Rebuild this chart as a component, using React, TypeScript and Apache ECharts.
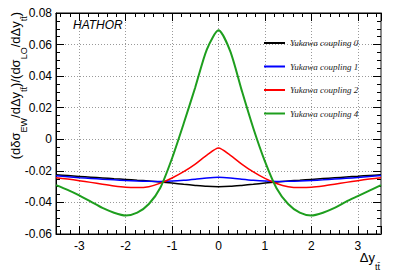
import React, { useEffect, useRef } from "react";
import * as echarts from "echarts";

const xValues = [-3.5, -3.25, -3, -2.75, -2.5, -2.25, -2, -1.75, -1.5, -1.25, -1, -0.75, -0.5, -0.25, 0,
  0.25, 0.5, 0.75, 1, 1.25, 1.5, 1.75, 2, 2.25, 2.5, 2.75, 3, 3.25, 3.5];

const yukawa0 = [-0.0225, -0.0230, -0.0235, -0.0240, -0.0245, -0.0250, -0.0254, -0.0259, -0.0264, -0.0270, -0.0277, -0.0285, -0.0292, -0.0298, -0.0300,
  -0.0298, -0.0292, -0.0285, -0.0277, -0.0270, -0.0264, -0.0259, -0.0254, -0.0249, -0.0244, -0.0239, -0.0234, -0.0229, -0.0225];
const yukawa1 = [-0.0231, -0.0237, -0.0243, -0.0248, -0.0253, -0.0257, -0.0261, -0.0264, -0.0266, -0.0267, -0.0265, -0.0260, -0.0253, -0.0245, -0.0241,
  -0.0245, -0.0253, -0.0260, -0.0265, -0.0267, -0.0266, -0.0264, -0.0261, -0.0257, -0.0252, -0.0247, -0.0242, -0.0236, -0.0230];
const yukawa2 = [-0.0243, -0.0252, -0.0262, -0.0273, -0.0285, -0.0296, -0.0304, -0.0306, -0.0300, -0.0278, -0.0245, -0.0205, -0.0157, -0.0100, -0.0055,
  -0.0100, -0.0157, -0.0207, -0.0248, -0.0280, -0.0300, -0.0306, -0.0304, -0.0296, -0.0285, -0.0273, -0.0262, -0.0252, -0.0243];
const yukawa4 = [-0.0290, -0.0320, -0.0355, -0.0395, -0.0435, -0.0465, -0.0483, -0.0465, -0.0410, -0.0305, -0.0120, 0.0100, 0.0330, 0.0570, 0.0690,
  0.0560, 0.0310, 0.0070, -0.0140, -0.0310, -0.0410, -0.0465, -0.0483, -0.0465, -0.0435, -0.0395, -0.0360, -0.0325, -0.0290];

const seriesNames = ["Yukawa coupling 0", "Yukawa coupling 1", "Yukawa coupling 2", "Yukawa coupling 4"];
const seriesData = [yukawa0, yukawa1, yukawa2, yukawa4];
const seriesColors = ["#000000", "#0000ff", "#ff0000", "#1e9e1e"];
const seriesWidths = [1.5, 1.5, 1.5, 2];

const yTickFormat = (v: number) => (Math.abs(v) < 1e-9 ? "0" : v.toFixed(2));

export default function App() {
  const ref = useRef<HTMLDivElement>(null);
  useEffect(() => {
    if (!ref.current) return;
    const chart = echarts.init(ref.current, undefined, { renderer: "svg" });
    const grid = { left: 56, right: 18, top: 13, bottom: 36 };
    const splitLine = { show: true, lineStyle: { color: "#999999", type: [1, 2] as any, width: 1 } };
    const labelFont = { fontFamily: "Liberation Sans", fontSize: 12, color: "#000" };
    const subRich = {
      m: { fontFamily: "Liberation Sans", fontSize: 13, lineHeight: 14, verticalAlign: "top", fill: "#000" },
      s: { fontFamily: "Liberation Sans", fontSize: 9, lineHeight: 9, padding: [11, 0, 0, 0], verticalAlign: "top", fill: "#000" },
    };
    const option: any = {
      animation: false,
      backgroundColor: "#ffffff",
      grid: { ...grid, show: true, borderColor: "#000", borderWidth: 1 },
      xAxis: [
        {
          type: "value", min: -3.5, max: 3.5, splitNumber: 7, position: "bottom",
          axisLine: { show: true, onZero: false, lineStyle: { color: "#000", width: 1 } },
          axisTick: { show: true, inside: true, length: 8, lineStyle: { color: "#000" } },
          minorTick: { show: true, splitNumber: 5, length: 4, lineStyle: { color: "#000" } },
          axisLabel: { ...labelFont, margin: 6, showMinLabel: false, showMaxLabel: false },
          splitLine,
        },
        {
          type: "value", min: -3.5, max: 3.5, splitNumber: 7, position: "top",
          axisLine: { show: true, onZero: false, lineStyle: { color: "#000", width: 1 } },
          axisTick: { show: true, inside: true, length: 8, lineStyle: { color: "#000" } },
          minorTick: { show: true, splitNumber: 5, length: 4, lineStyle: { color: "#000" } },
          axisLabel: { show: false },
          splitLine: { show: false },
        },
      ],
      yAxis: [
        {
          type: "value", min: -0.06, max: 0.08, interval: 0.02, position: "left",
          axisLine: { show: true, onZero: false, lineStyle: { color: "#000", width: 1 } },
          axisTick: { show: true, inside: true, length: 8, lineStyle: { color: "#000" } },
          minorTick: { show: true, splitNumber: 4, length: 4, lineStyle: { color: "#000" } },
          axisLabel: { ...labelFont, margin: 4, formatter: yTickFormat },
          splitLine,
        },
        {
          type: "value", min: -0.06, max: 0.08, interval: 0.02, position: "right",
          axisLine: { show: true, onZero: false, lineStyle: { color: "#888", width: 2 } },
          axisTick: { show: true, inside: true, length: 8, lineStyle: { color: "#000" } },
          minorTick: { show: true, splitNumber: 4, length: 4, lineStyle: { color: "#000" } },
          axisLabel: { show: false },
          splitLine: { show: false },
        },
      ],
      legend: {
        orient: "vertical",
        left: 259,
        top: 32,
        itemWidth: 21,
        itemHeight: 2,
        itemGap: 11.5,
        icon: "rect",
        textStyle: { fontFamily: "Liberation Serif", fontStyle: "italic", fontSize: 9, color: "#222", lineHeight: 12 },
        data: seriesNames,
      },
      series: seriesNames.map((name, i) => ({
        name,
        type: "line",
        xAxisIndex: 0,
        yAxisIndex: 0,
        data: xValues.map((x, j) => [x, seriesData[i][j]]),
        showSymbol: false,
        symbol: "none",
        smooth: 0.25,
        lineStyle: { color: seriesColors[i], width: seriesWidths[i] },
        itemStyle: { color: seriesColors[i] },
        z: 3 + i,
      })),
      graphic: [
        {
          type: "text", x: 73, y: 25,
          style: { text: "HATHOR", fontFamily: "Liberation Sans", fontStyle: "italic", fontSize: 12, fill: "#000", verticalAlign: "middle", align: "left" },
        },
        {
          type: "text", x: 15.5, y: 12, rotation: Math.PI / 2,
          style: {
            text: "{m|(dδσ}{s|EW}{m|/dΔy}{s|tt\u0304}{m|)/(dσ}{s|LO}{m|/dΔy}{s|tt\u0304}{m|)}",
            align: "right", verticalAlign: "middle",
            rich: subRich,
          },
        },
        {
          type: "text", x: 380, y: 258,
          style: {
            text: "{m|Δy}{s|tt\u0304}",
            align: "right", verticalAlign: "middle",
            rich: subRich,
          },
        },
      ],
    };
    chart.setOption(option);
    return () => chart.dispose();
  }, []);
  return <div ref={ref} style={{ width: 399, height: 270, position: "absolute", left: 0, top: 0 }} />;
}
